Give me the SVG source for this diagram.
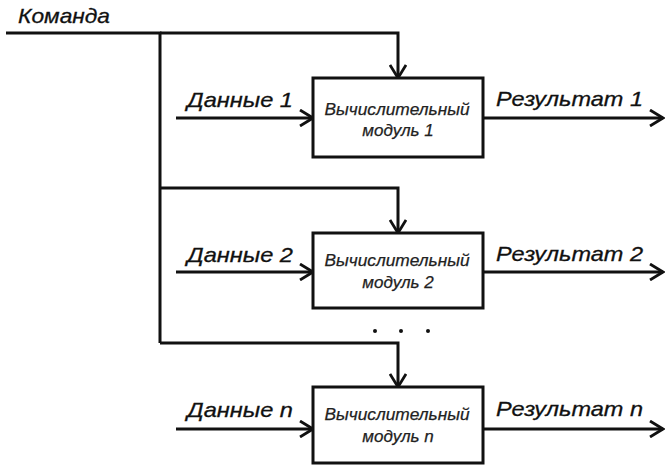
<svg xmlns="http://www.w3.org/2000/svg" width="665" height="466" viewBox="0 0 665 466">
<defs>
<marker id="arr" viewBox="0 0 16 18" refX="14" refY="9" markerWidth="16" markerHeight="18" markerUnits="userSpaceOnUse" orient="auto">
<path d="M1,1 L14,9 L1,17" fill="none" stroke="#111" stroke-width="2.8" stroke-linejoin="miter"/>
</marker>
<style>
.ln{fill:none;stroke:#111;stroke-width:3}
.ar{marker-end:url(#arr)}
.box{fill:#fff;stroke:#111;stroke-width:3}
.lbl{font-family:"Liberation Sans",Arial,sans-serif;font-style:italic;font-size:21px;fill:#111;stroke:#111;stroke-width:0.3}
.bt{font-family:"Liberation Sans",Arial,sans-serif;font-style:italic;font-size:17px;fill:#222;stroke:#222;stroke-width:0.25;text-anchor:middle}
.dot{fill:#111}
</style>
</defs>
<rect width="665" height="466" fill="#fff"/>
<g id="connectors">
<path class="ln" d="M6,33 H160 V343"/>
<path class="ln ar" d="M160,33 H398 V78"/>
<path class="ln ar" d="M160,188 H398 V233"/>
<path class="ln ar" d="M160,343 H398 V387"/>
<path class="ln ar" d="M176,118 H313"/>
<path class="ln ar" d="M176,272 H313"/>
<path class="ln ar" d="M176,429 H313"/>
<path class="ln ar" d="M483,118 H663"/>
<path class="ln ar" d="M483,272 H663"/>
<path class="ln ar" d="M483,429 H663"/>
</g>
<g id="command"><text class="lbl" x="18" y="23" textLength="92" lengthAdjust="spacingAndGlyphs">Команда</text></g>
<g id="module1">
<rect class="box" x="313" y="78" width="170" height="79"/>
<text class="bt" x="397" y="115" textLength="145" lengthAdjust="spacingAndGlyphs">Вычислительный</text>
<text class="bt" x="398" y="136">модуль 1</text>
</g>
<g id="module2">
<rect class="box" x="313" y="233" width="170" height="75"/>
<text class="bt" x="397" y="266" textLength="145" lengthAdjust="spacingAndGlyphs">Вычислительный</text>
<text class="bt" x="398" y="288">модуль 2</text>
</g>
<g id="modulen">
<rect class="box" x="313" y="387" width="170" height="76"/>
<text class="bt" x="397" y="420" textLength="145" lengthAdjust="spacingAndGlyphs">Вычислительный</text>
<text class="bt" x="398" y="442">модуль n</text>
</g>
<g id="labels">
<text class="lbl" x="187" y="107" textLength="106" lengthAdjust="spacingAndGlyphs">Данные 1</text>
<text class="lbl" x="187" y="262" textLength="106" lengthAdjust="spacingAndGlyphs">Данные 2</text>
<text class="lbl" x="187" y="417" textLength="106" lengthAdjust="spacingAndGlyphs">Данные n</text>
<text class="lbl" x="496" y="106" textLength="147" lengthAdjust="spacingAndGlyphs">Результат 1</text>
<text class="lbl" x="496" y="261" textLength="147" lengthAdjust="spacingAndGlyphs">Результат 2</text>
<text class="lbl" x="496" y="416" textLength="147" lengthAdjust="spacingAndGlyphs">Результат n</text>
</g>
<g id="ellipsis">
<circle class="dot" cx="375" cy="331" r="2"/>
<circle class="dot" cx="401" cy="331" r="2"/>
<circle class="dot" cx="428" cy="331" r="2"/>
</g>
</svg>
